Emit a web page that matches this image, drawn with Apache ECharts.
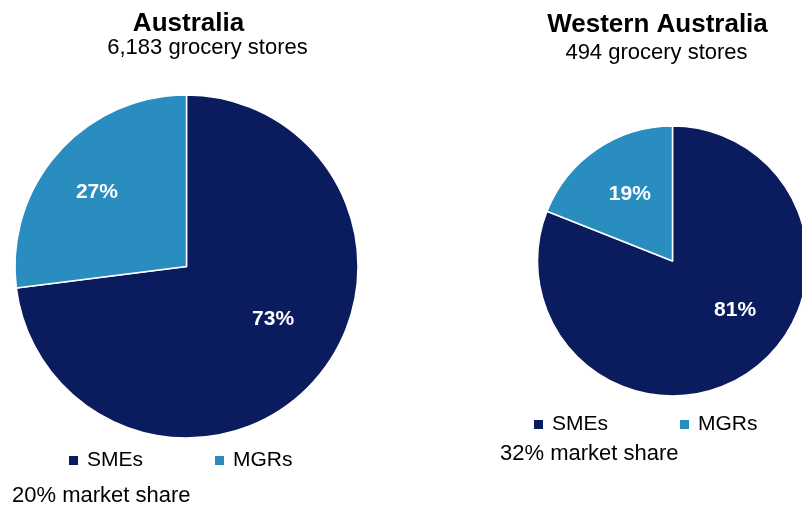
<!DOCTYPE html>
<html>
<head>
<meta charset="utf-8">
<script src="https://cdn.jsdelivr.net/npm/echarts@6/dist/echarts.min.js"></script>
<style>
  html, body { margin: 0; padding: 0; background: #fff; }
  #chart { width: 802px; height: 510px; }
</style>
</head>
<body>
<div id="chart"></div>
<script>
// 数据
const categories = ['SMEs', 'MGRs']
const australiaShare = [73, 27]
const waShare = [81, 19]
const colors = ['#0b1c5e', '#2a8dc0']
const font = 'Liberation Sans, Arial, sans-serif'

;(function () {
    const chart = echarts.init(document.getElementById('chart'))

    // 标签偏移 (Excel 风格的位置)
    const leftOffsets = [[20, -6], [-23, -16]]
    const rightOffsets = [[23, -9], [-3, -8]]

    function buildData(values, offsets) {
        return values.map((v, i) => ({
            value: v,
            name: categories[i],
            label: { offset: offsets[i] }
        }))
    }

    const pieBase = {
        type: 'pie',
        startAngle: 90,
        clockwise: true,
        silent: true,
        itemStyle: { borderColor: '#fff', borderWidth: 1.5 },
        label: {
            show: true,
            position: 'inside',
            formatter: '{c}%',
            color: '#fff',
            fontFamily: font,
            fontWeight: 'bold',
            fontSize: 21
        },
        labelLine: { show: false },
        emphasis: { disabled: true }
    }

    const legendBase = {
        data: categories,
        icon: 'rect',
        itemWidth: 11,
        itemHeight: 11,
        itemGap: 70,
        padding: 0,
        selectedMode: false,
        textStyle: {
            color: '#000',
            fontFamily: font,
            fontSize: 21,
            lineHeight: 24,
            padding: [0, 0, 0, 3]
        }
    }

    function txt(x, y, text, size, bold, align) {
        return {
            type: 'text',
            x: x,
            y: y,
            style: {
                text: text,
                fill: '#000',
                font: (bold ? 'bold ' : '') + size + 'px ' + font,
                align: align || 'center',
                verticalAlign: 'middle'
            }
        }
    }

    const option = {
        color: colors,
        animation: false,
        legend: [
            Object.assign({}, legendBase, { left: 67, top: 448.5 }),
            Object.assign({}, legendBase, { left: 532, top: 412.5 })
        ],
        graphic: [
            txt(188.5, 24, 'Australia', 26, true),
            txt(207.5, 47.5, '6,183 grocery stores', 22, false),
            txt(657.5, 25, 'Western Australia', 26, true),
            txt(656.5, 52.5, '494 grocery stores', 22, false),
            txt(12, 495.5, '20% market share', 22, false, 'left'),
            txt(500, 453.5, '32% market share', 22, false, 'left')
        ],
        series: [
            Object.assign({}, pieBase, {
                name: 'Australia',
                center: [186.5, 266.5],
                radius: 171.5,
                data: buildData(australiaShare, leftOffsets)
            }),
            Object.assign({}, pieBase, {
                name: 'Western Australia',
                center: [672.5, 261],
                radius: 135,
                data: buildData(waShare, rightOffsets)
            })
        ]
    }
    chart.setOption(option)
    window.addEventListener('resize', () => {
        chart.resize()
    })
})();
</script>
</body>
</html>
